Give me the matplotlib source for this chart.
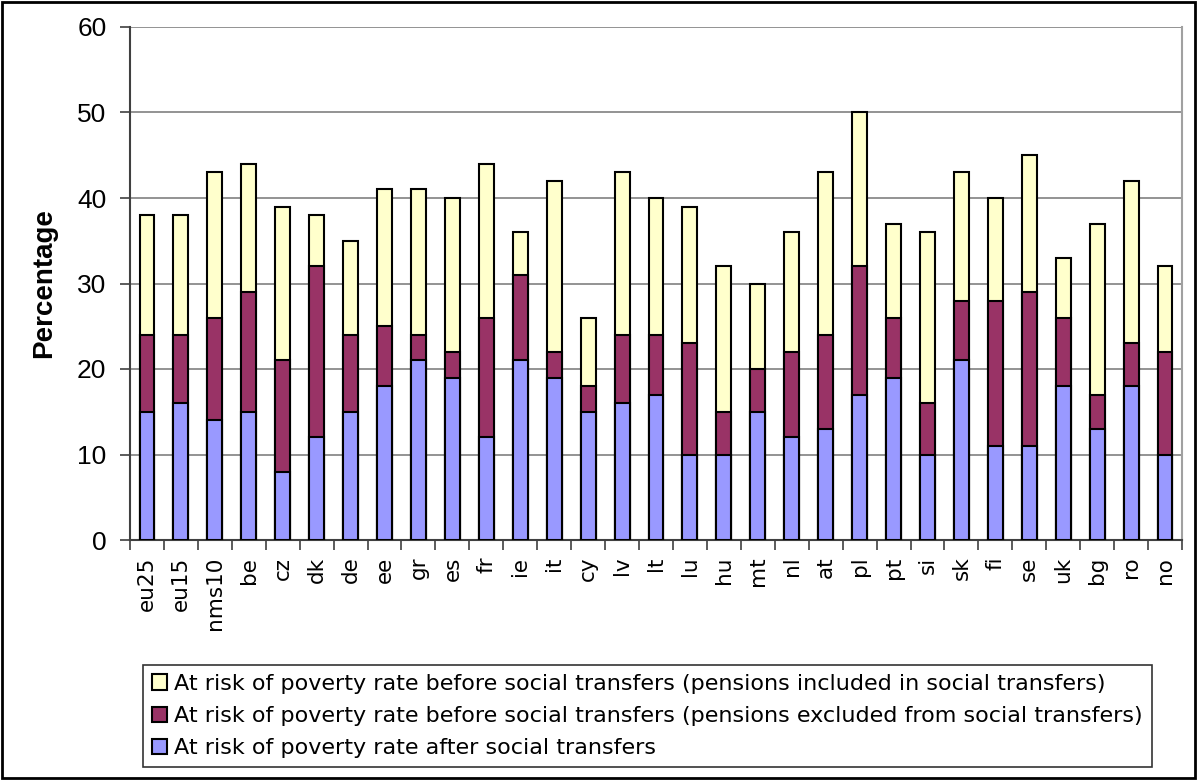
import numpy as np
import matplotlib.pyplot as plt
from matplotlib.patches import Rectangle

countries = ['eu25', 'eu15', 'nms10', 'be', 'cz', 'dk', 'de', 'ee', 'gr', 'es',
             'fr', 'ie', 'it', 'cy', 'lv', 'lt', 'lu', 'hu', 'mt', 'nl', 'at',
             'pl', 'pt', 'si', 'sk', 'fi', 'se', 'uk', 'bg', 'ro', 'no']

# at risk of poverty rate after social transfers
after = [15, 16, 14, 15, 8, 12, 15, 18, 21, 19, 12, 21, 19, 15, 16, 17,
         10, 10, 15, 12, 13, 17, 19, 10, 21, 11, 11, 18, 13, 18, 10]
# before transfers, pensions excluded from social transfers
before_excl = [24, 24, 26, 29, 21, 32, 24, 25, 24, 22, 26, 31, 22, 18, 24, 24,
               23, 15, 20, 22, 24, 32, 26, 16, 28, 28, 29, 26, 17, 23, 22]
# before transfers, pensions included in social transfers
before_incl = [38, 38, 43, 44, 39, 38, 35, 41, 41, 40, 44, 36, 42, 26, 43, 40,
               39, 32, 30, 36, 43, 50, 37, 36, 43, 40, 45, 33, 37, 42, 32]

labels = ['At risk of poverty rate before social transfers (pensions included in social transfers)',
          'At risk of poverty rate before social transfers (pensions excluded from social transfers)',
          'At risk of poverty rate after social transfers']

plt.rcParams['font.family'] = 'Liberation Sans'

fig = plt.figure(figsize=(11.97, 7.8), dpi=100)
ax = fig.add_axes([130 / 1197, 1 - 540 / 780, 1052 / 1197, 513 / 780])

x = np.arange(len(countries))
w = 0.44
b1 = ax.bar(x, before_incl, w, color='#FFFFCC', edgecolor='black', linewidth=1.5, zorder=3, label=labels[0])
b2 = ax.bar(x, before_excl, w, color='#993366', edgecolor='black', linewidth=1.5, zorder=4, label=labels[1])
b3 = ax.bar(x, after, w, color='#9999FF', edgecolor='black', linewidth=1.5, zorder=5, label=labels[2])

ax.set_xlim(-0.5, len(countries) - 0.5)
ax.set_ylim(0, 60)
ax.set_yticks(range(0, 61, 10))
ax.yaxis.grid(True, color='#808080', linewidth=1.2, zorder=0)
ax.set_axisbelow(True)

ax.set_xticks(x)
ax.set_xticklabels(countries, rotation=90, fontsize=15.5, family='DejaVu Sans')
ax.set_xticks(np.arange(-0.5, len(countries)), minor=True)
ax.tick_params(axis='x', which='major', length=0, pad=12)
ax.tick_params(axis='x', which='minor', length=7, width=1.2, color='#404040')
ax.tick_params(axis='y', length=7, width=1.2, color='#404040', pad=10, labelsize=19)

ax.spines['top'].set_visible(False)
ax.spines['right'].set_color('#A0A0A0')
ax.spines['right'].set_linewidth(1.5)
for s in ['left', 'bottom']:
    ax.spines[s].set_color('#404040')
    ax.spines[s].set_linewidth(1.5)

ax.set_ylabel('Percentage', fontsize=20, fontweight='bold', labelpad=14)

leg = fig.legend(handles=[b1, b2, b3], labels=labels, loc='upper left',
                 bbox_to_anchor=(143 / 1197, 1 - 665 / 780),
                 prop={'family': 'DejaVu Sans', 'size': 16},
                 frameon=True, fancybox=False, edgecolor='black',
                 handlelength=0.7, handleheight=0.7, handletextpad=0.3,
                 labelspacing=0.55, borderpad=0.4, borderaxespad=0)
leg.get_frame().set_linewidth(1.2)

fig.patches.append(Rectangle((0.002, 0.003), 0.996, 0.994, transform=fig.transFigure,
                             fill=False, edgecolor='black', linewidth=2))

fig.savefig('out.png', dpi=100)
